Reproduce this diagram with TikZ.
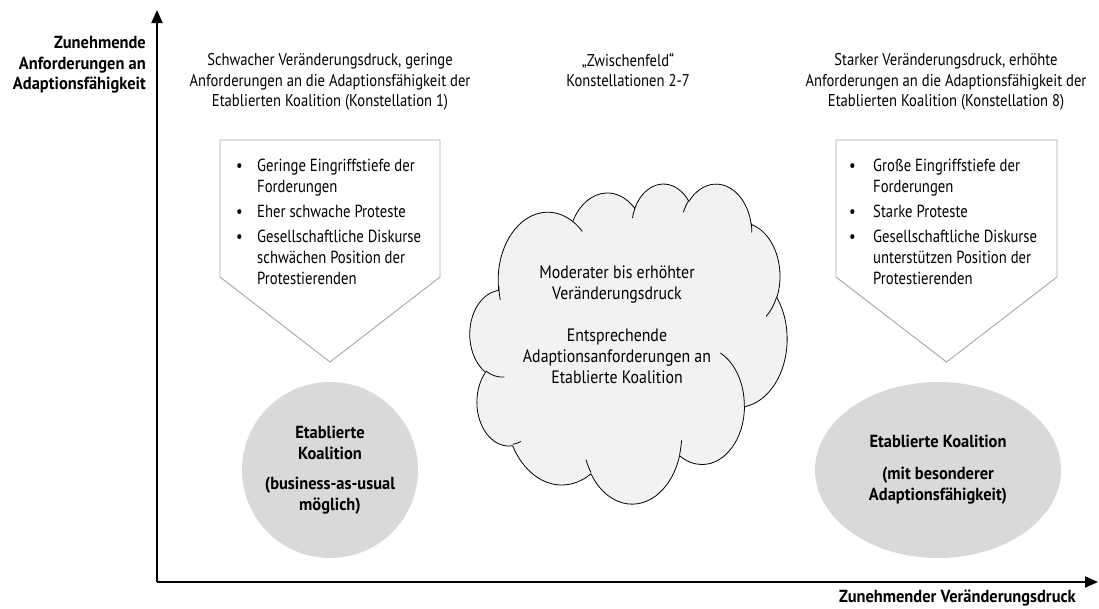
\documentclass[tikz,border=0pt]{standalone}
\usepackage{fontspec}
\setmainfont[FakeStretch=0.86]{PT Sans}
\newfontfamily\bodyfont[FakeStretch=0.84]{PT Sans}
\newfontfamily\cloudfont[FakeStretch=0.88]{PT Sans}
\newfontfamily\strongfont[FakeStretch=0.94]{PT Sans}
\usepackage{tikz}
\usetikzlibrary{arrows.meta,positioning,shapes.geometric}
\definecolor{chevgray}{HTML}{A6A6A6}
\definecolor{coalgray}{HTML}{D9D9D9}
\definecolor{cloudgray}{HTML}{F2F2F2}

% one puff of the cloud outline: x radius, y radius, start angle, sweep
\newcommand{\puff}[4]{arc[start angle={atan2(#1*sin(#3),#2*cos(#3))},
  delta angle={mod(atan2(#1*sin(#3+#4),#2*cos(#3+#4))-atan2(#1*sin(#3),#2*cos(#3))+720,360)},
  x radius=#1, y radius=#2]}

\begin{document}
\begin{tikzpicture}[
    x=1pt, y=-1pt,
    axis/.style={-{Triangle[length=13pt,width=11pt]}, line width=2pt},
    axislabel/.style={font=\fontsize{17.5}{20.5}\selectfont\strongfont\bfseries, inner sep=0pt},
    headtext/.style={font=\fontsize{17}{20.5}\selectfont, align=center, inner sep=0pt},
    chevron/.style={draw=chevgray, line width=0.9pt, fill=white},
    bullets/.style={font=\fontsize{17.5}{21}\selectfont\bodyfont, anchor=north west, inner sep=0pt},
    coalition/.style={ellipse, fill=coalgray, inner sep=0pt},
    coaltext/.style={font=\fontsize{17.5}{21.5}\selectfont\strongfont\bfseries, align=center, inner sep=0pt},
    cloudline/.style={draw, line width=0.8pt},
    cloudtext/.style={font=\fontsize{18}{21}\selectfont\cloudfont, align=center, inner sep=0pt}
]
\useasboundingbox (0,0) rectangle (1099,608);

% ---- Axes ----
\coordinate (origin) at (157,582);
\coordinate (ytip) at (157,10);
\coordinate (xtip) at (1098,582);
\draw[axis] (origin) -- (ytip);
\draw[axis] (origin) -- (xtip);
\node[axislabel, align=right, anchor=east] (ylabel) at (146,65) {Zunehmende\\Anforderungen an\\Adaptionsfähigkeit};
\node[axislabel, anchor=east] (xlabel) at (1076,598) {Zunehmender Veränderungsdruck};

% ---- Headings ----
\node[headtext] (headleft) at (330,82) {Schwacher Veränderungsdruck, geringe\\Anforderungen an die Adaptionsfähigkeit der\\Etablierten Koalition (Konstellation 1)};
\node[headtext] (headmid) at (628,70) {„Zwischenfeld“\\Konstellationen 2-7};
\node[headtext] (headright) at (946,82) {Starker Veränderungsdruck, erhöhte\\Anforderungen an die Adaptionsfähigkeit der\\Etablierten Koalition (Konstellation 8)};

% ---- Left chevron ----
\draw[chevron] (220,140) -- (440,140) -- (440,277) -- (330,362) -- (220,277) -- cycle;
\node[bullets] (listleft) at (236,157) {%
  \begin{tabular}{@{}p{21pt}@{}l@{}}
  \textbullet & Geringe Eingriffstiefe der\\
              & Forderungen\\[4pt]
  \textbullet & Eher schwache Proteste\\[4pt]
  \textbullet & Gesellschaftliche Diskurse\\
              & schwächen Position der\\
              & Protestierenden
  \end{tabular}};

% ---- Right chevron ----
\draw[chevron] (836,140) -- (1057,140) -- (1057,277) -- (946.5,362) -- (836,277) -- cycle;
\node[bullets] (listright) at (849,157) {%
  \begin{tabular}{@{}p{24pt}@{}l@{}}
  \textbullet & Große Eingriffstiefe der\\
              & Forderungen\\[4pt]
  \textbullet & Starke Proteste\\[4pt]
  \textbullet & Gesellschaftliche Diskurse\\
              & unterstützen Position der\\
              & Protestierenden
  \end{tabular}};

% ---- Cloud ----
\begin{scope}[shift={(470,183)}, x=0.7338pt, y=-0.7407pt]
  \draw[cloudline, fill=cloudgray] (39.00,143.70)
    \puff{67.53}{91.90}{-190.48748}{123.78053}
    \puff{53.33}{72.67}{-144.10238}{89.94523}
    \puff{43.65}{59.45}{-145.80792}{99.72302}
    \puff{48.57}{65.95}{-130.98607}{117.24173}
    \puff{53.33}{72.73}{-78.70888}{109.02692}
    \puff{67.75}{92.20}{-46.26725}{130.269}
    \puff{57.85}{78.67}{0.62502}{114.03333}
    \puff{67.52}{92.15}{22.4516}{115.17255}
    \puff{77.20}{105.43}{66.24263}{75.71102}
    \puff{43.60}{59.18}{-274.94208}{146.73557}
    \puff{43.45}{59.45}{-246.8285}{152.51885} -- cycle;
  % inner hooks
  \draw[cloudline]
    (46.93,261.77) \puff{43.45}{59.45}{86.742}{26.4295}
    (69.28,348.99) \puff{43.60}{59.18}{73.6105}{11.4475}
    (164.78,390.90) \puff{67.52}{92.15}{137.624}{14.0811}
    (288.27,347.51) \puff{67.52}{92.15}{6.4533}{15.9984}
    (341.29,229.54) \puff{57.85}{78.67}{-70.2924}{70.9174}
    (417.98,153.54) \puff{53.33}{72.73}{30.318}{27.7515}
    (383.24,54.26) \puff{48.57}{65.95}{-13.7443}{14.8589}
    (290.78,39.52) \puff{48.57}{65.95}{-149.1815}{18.1954}
    (221.41,47.20) \puff{43.65}{59.45}{-163.4943}{17.6864}
    (140.00,51.92) \puff{67.53}{91.90}{-66.707}{12.3194}
    (41.27,157.89) \puff{67.53}{91.90}{160.767}{16.2017};
\end{scope}
\coordinate (cloudcentre) at (628,343);
\node[cloudtext] (cloudlabel) at ([xshift=-11pt, yshift=18pt]cloudcentre) {Moderater bis erhöhter\\Veränderungsdruck\\[21pt]Entsprechende\\Adaptionsanforderungen an\\Etablierte Koalition};

% ---- Coalitions ----
\node[coalition, minimum width=176, minimum height=176] (coalleft) at (330,470) {};
\node[coaltext] (coallefttext) at (coalleft.center) {Etablierte\\Koalition\\[8pt](business-as-usual\\möglich)};
\node[coalition, minimum width=246, minimum height=176] (coalright) at (938,470) {};
\node[coaltext] (coalrighttext) at (coalright.center) {Etablierte Koalition\\[10pt](mit besonderer\\Adaptionsfähigkeit)};

\end{tikzpicture}
\end{document}
